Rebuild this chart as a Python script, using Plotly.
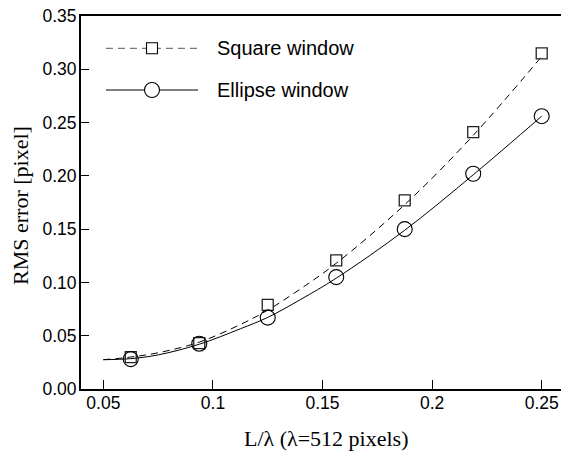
import plotly.graph_objects as go

# ---- data ----
x_pts = [0.0625, 0.09375, 0.125, 0.15625, 0.1875, 0.21875, 0.25]
square_y = [0.030, 0.043, 0.079, 0.1206, 0.177, 0.241, 0.315]
ellipse_y = [0.028, 0.0425, 0.067, 0.105, 0.150, 0.202, 0.256]

fit_x = [0.05, 0.0625, 0.075, 0.09375, 0.1125, 0.125, 0.14, 0.15625, 0.1875, 0.21875, 0.25]
square_fit = [0.0275, 0.0300, 0.0340, 0.0440, 0.0605, 0.0740, 0.0940, 0.1180, 0.1730, 0.2380, 0.3120]
ellipse_fit = [0.0275, 0.0285, 0.0320, 0.0420, 0.0565, 0.0672, 0.0840, 0.1040, 0.1490, 0.2010, 0.2560]

x_tickvals = [0.05, 0.1, 0.15, 0.2, 0.25]
x_ticktext = ["0.05", "0.1", "0.15", "0.2", "0.25"]
y_tickvals = [0.0, 0.05, 0.10, 0.15, 0.20, 0.25, 0.30, 0.35]
y_ticktext = ["0.00", "0.05", "0.10", "0.15", "0.20", "0.25", "0.30", "0.35"]

legend_names = ["Square window", "Ellipse window"]
x_title = "L/λ (λ=512 pixels)"
y_title = "RMS error [pixel]"

# ---- figure geometry (pixels) ----
W, H = 561, 451
ML, MR, MT, MB = 81, 0, 16, 62
PW, PH = W - ML - MR, H - MT - MB


def px_x(px):
    return (px - ML) / PW


def px_y(py):
    return (H - MB - py) / PH


SANS = "Liberation Sans, Arial, Helvetica, sans-serif"
SERIF = "Liberation Serif, Times New Roman, serif"
DASH = "7px,5px"

fig = go.Figure()
fig.add_trace(go.Scatter(x=fit_x, y=square_fit, mode="lines",
                         line=dict(color="black", width=1, dash=DASH, shape="spline"),
                         showlegend=False, hoverinfo="skip"))
fig.add_trace(go.Scatter(x=fit_x, y=ellipse_fit, mode="lines",
                         line=dict(color="black", width=1, shape="spline"),
                         showlegend=False, hoverinfo="skip"))
fig.add_trace(go.Scatter(x=x_pts, y=square_y, mode="markers", name=legend_names[0],
                         marker=dict(symbol="square-open", size=11, color="#222",
                                     line=dict(width=1.3, color="#222")),
                         showlegend=False))
fig.add_trace(go.Scatter(x=x_pts, y=ellipse_y, mode="markers", name=legend_names[1],
                         marker=dict(symbol="circle-open", size=15, color="black",
                                     line=dict(width=1.1, color="black")),
                         showlegend=False))

# ---- custom legend ----
shapes = []
annotations = []
leg_rows = [(48.3, DASH, "square", 11, legend_names[0], "#555"),
            (90.0, "solid", "circle", 15, legend_names[1], "black")]
for py, dash, sym, sz, name, col in leg_rows:
    shapes.append(dict(type="line", xref="paper", yref="paper",
                       x0=px_x(106), x1=px_x(198), y0=px_y(py), y1=px_y(py),
                       line=dict(color=col, width=1, dash=dash)))
    shapes.append(dict(type="rect" if sym == "square" else "circle",
                       xref="paper", yref="paper",
                       xsizemode="pixel", ysizemode="pixel",
                       xanchor=px_x(152), yanchor=px_y(py),
                       x0=-sz / 2, x1=sz / 2, y0=-sz / 2, y1=sz / 2,
                       fillcolor="white", line=dict(color="black", width=1.1)))
    annotations.append(dict(text=name, xref="paper", yref="paper",
                            x=px_x(215), y=px_y(py), xanchor="left", yanchor="middle",
                            showarrow=False, font=dict(family=SANS, size=20, color="black")))

# axis titles
annotations.append(dict(text=x_title, xref="paper", yref="paper",
                        x=px_x(326), y=px_y(438), xanchor="center", yanchor="middle",
                        showarrow=False, font=dict(family=SERIF, size=22, color="black")))
annotations.append(dict(text=y_title, xref="paper", yref="paper", textangle=-90,
                        x=px_x(20), y=px_y(206), xanchor="center", yanchor="middle",
                        showarrow=False, font=dict(family=SERIF, size=22, color="black")))

fig.update_layout(
    width=W, height=H,
    margin=dict(l=ML, r=MR, t=MT, b=MB, pad=0),
    paper_bgcolor="white", plot_bgcolor="white",
    shapes=shapes, annotations=annotations,
    showlegend=False,
    xaxis=dict(range=[0.0398, 0.2588], tickvals=x_tickvals, ticktext=x_ticktext,
               showgrid=False, zeroline=False, showline=True, linecolor="black",
               linewidth=2, mirror=True, ticks="inside", ticklen=9, tickwidth=1,
               tickcolor="black", ticklabelstandoff=-3,
               tickfont=dict(family=SANS, size=17.5, color="black")),
    yaxis=dict(range=[0, 0.35], tickvals=y_tickvals, ticktext=y_ticktext,
               showgrid=False, zeroline=False, showline=True, linecolor="black",
               linewidth=2, ticks="inside", ticklen=8, tickwidth=1,
               tickcolor="black", ticklabelstandoff=-1,
               tickfont=dict(family=SANS, size=17.5, color="black")),
)

fig.write_html("out.html")
